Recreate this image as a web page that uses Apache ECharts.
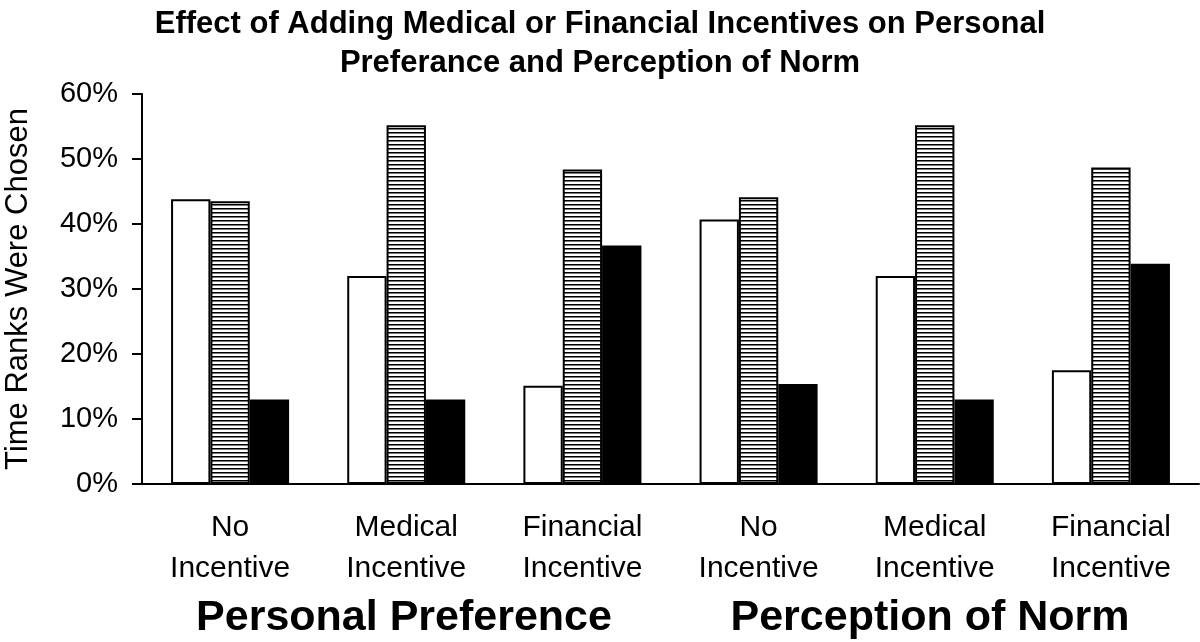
<!DOCTYPE html>
<html>
<head>
<meta charset="utf-8">
<script src="https://cdn.jsdelivr.net/npm/echarts@6/dist/echarts.min.js"></script>
<style>
  html, body { margin: 0; padding: 0; background: #fff; }
  #chart { width: 1200px; height: 642px; }
</style>
</head>
<body>
<div id="chart"></div>
<script>
// data
var categories = ['No\nIncentive', 'Medical\nIncentive', 'Financial\nIncentive', 'No\nIncentive', 'Medical\nIncentive', 'Financial\nIncentive'];
var whiteVals = [43.8, 32.0, 15.1, 40.7, 32.0, 17.5];
var stripedVals = [43.5, 55.2, 48.4, 44.1, 55.2, 48.7];
var blackVals = [13.0, 13.0, 36.7, 15.4, 13.0, 33.9];
var groupLabels = ['Personal Preference', 'Perception of Norm'];

var FONT = '"Liberation Sans", Arial, Helvetica, sans-serif';

// horizontal stripe fill
function stripes() {
  var c = document.createElement('canvas');
  c.width = 4;
  c.height = 4;
  var ctx = c.getContext('2d');
  ctx.fillStyle = '#fff';
  ctx.fillRect(0, 0, 4, 4);
  ctx.fillStyle = '#000';
  ctx.fillRect(0, 0, 4, 1);
  ctx.fillStyle = '#777';
  ctx.fillRect(0, 1, 4, 1);
  return c;
}

var chart = echarts.init(document.getElementById('chart'));

function barSeries(name, data, fill) {
  return {
    name: name,
    type: 'bar',
    data: data,
    barGap: '0%',
    barCategoryGap: '33%',
    itemStyle: {
      color: fill,
      borderColor: '#000',
      borderWidth: 2
    }
  };
}

function groupText(label, cx) {
  return {
    type: 'text',
    x: cx,
    y: 597,
    style: {
      text: label,
      align: 'center',
      verticalAlign: 'top',
      fontFamily: FONT,
      fontWeight: 'bold',
      fontSize: 43,
      fill: '#000'
    }
  };
}

var option = {
  animation: false,
  title: {
    text: 'Effect of Adding Medical or Financial Incentives on Personal\nPreferance and Perception of Norm',
    left: 'center',
    top: 0,
    textStyle: {
      fontFamily: FONT,
      fontWeight: 'bold',
      fontSize: 31,
      lineHeight: 39,
      color: '#000'
    }
  },
  grid: {
    left: 142,
    right: 1,
    top: 94,
    bottom: 158,
    containLabel: false,
    outerBoundsMode: 'none'
  },
  xAxis: {
    type: 'category',
    data: categories,
    axisLine: { lineStyle: { color: '#000', width: 2 } },
    axisTick: { length: 10, lineStyle: { color: '#000', width: 2 } },
    axisLabel: {
      interval: 0,
      margin: 23,
      color: '#000',
      fontFamily: FONT,
      fontSize: 30,
      lineHeight: 41
    }
  },
  yAxis: {
    type: 'value',
    min: 0,
    max: 60,
    interval: 10,
    name: 'Time Ranks Were Chosen',
    nameLocation: 'middle',
    nameGap: 108,
    nameTextStyle: {
      fontFamily: FONT,
      fontSize: 31,
      color: '#000'
    },
    axisLine: { show: true, lineStyle: { color: '#000', width: 2 } },
    axisTick: { show: true, length: 10, lineStyle: { color: '#000', width: 2 } },
    splitLine: { show: false },
    axisLabel: {
      formatter: '{value}%',
      margin: 24,
      color: '#000',
      fontFamily: FONT,
      fontSize: 29
    }
  },
  series: [
    barSeries('No', whiteVals, '#fff'),
    barSeries('Striped', stripedVals, { image: stripes(), repeat: 'repeat' }),
    barSeries('Black', blackVals, '#000')
  ],
  graphic: [
    groupText(groupLabels[0], 404),
    groupText(groupLabels[1], 930)
  ]
};

chart.setOption(option);
</script>
</body>
</html>
